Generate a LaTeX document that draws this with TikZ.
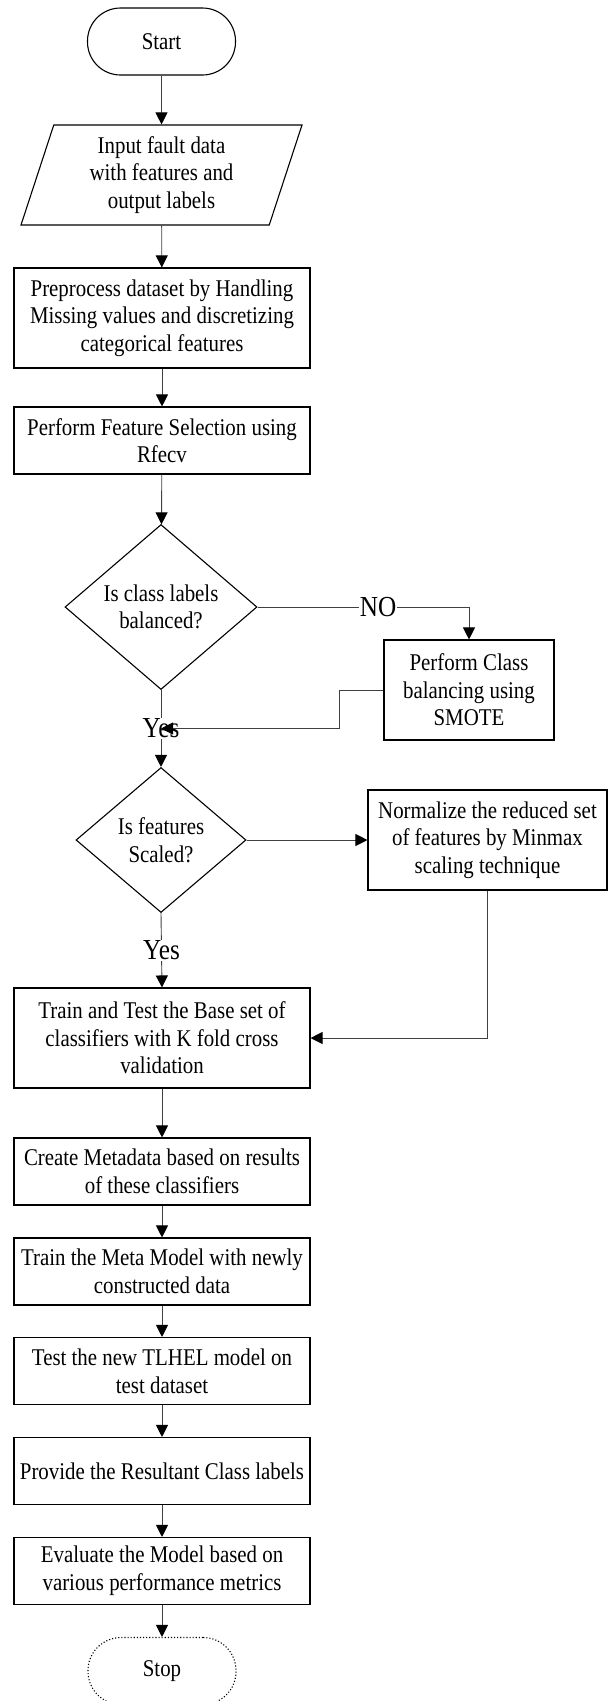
\documentclass[tikz,border=0pt]{standalone}
\usepackage{fontspec}
\setmainfont{Liberation Serif}[FakeStretch=0.87]
\usepackage{tikz}
\usetikzlibrary{shapes.geometric,arrows.meta}
\tikzset{box/.style={draw,line width=1.1pt,minimum width=296pt,minimum height=67pt,align=center,inner xsep=2pt},
  decision/.style={draw,diamond,line width=1.1pt,align=center,inner sep=0pt},
  terminal/.style={draw,rounded corners=33pt,line width=1.1pt,minimum width=148pt,minimum height=67pt},
  lbl/.style={fill=white,inner sep=1pt,font=\fontsize{29}{33}\selectfont},
  flow/.style={line width=0.9pt,draw=black!75,-{Triangle[length=12pt,width=12pt,color=black,fill=black]}}}

\begin{document}
\begin{tikzpicture}[x=1pt,y=-1pt,font=\fontsize{24}{27.6}\selectfont]
  \useasboundingbox (0,0) rectangle (608,1701);
  \node[terminal] (start) at (161.5,41.5) {Start};
  \node[draw,trapezium,trapezium left angle=67,trapezium right angle=113,trapezium stretches body,minimum width=281pt,minimum height=100pt,line width=1.1pt,align=center,inner sep=0pt] (input) at (161.5,175) {Input fault data\\with features and\\output labels};
  \node[box,minimum height=100pt] (prep) at (162,318) {Preprocess dataset by Handling\\Missing values and discretizing\\categorical features};
  \node[box] (fsel) at (162,440.5) {Perform Feature Selection using\\Rfecv};
  \node[decision,minimum width=192pt,minimum height=165pt] (dec1) at (161,607) {Is class labels\\balanced?};
  \node[box,minimum width=170pt,minimum height=100pt] (smote) at (469,690) {Perform Class\\balancing using\\SMOTE};
  \node[decision,minimum width=170pt,minimum height=145pt] (dec2) at (161,840) {Is features\\Scaled?};
  \node[box,minimum width=239pt,minimum height=100pt] (norm) at (487.5,840) {Normalize the reduced set\\of features by Minmax\\scaling technique};
  \node[box,minimum height=100pt] (train) at (162,1038) {Train and Test the Base set of\\classifiers with K fold cross\\validation};
  \node[box] (create) at (162,1171.5) {Create Metadata based on results\\of these classifiers};
  \node[box] (meta) at (162,1271.5) {Train the Meta Model with newly\\constructed data};
  \node[box] (test) at (162,1371) {Test the new TLHEL model on\\test dataset};
  \node[box] (prov) at (162,1471) {Provide the Resultant Class labels};
  \node[box] (eval) at (162,1571) {Evaluate the Model based on\\various performance metrics};
  \node[terminal,dotted] (stop) at (162,1671) {Stop};
  \draw[flow] (start) -- (input);
  \draw[flow] (input) -- (prep);
  \draw[flow] (prep) -- (fsel);
  \draw[flow] (fsel) -- (dec1);
  \draw[flow] (dec1.east) -- node[lbl,pos=0.57] (no) {NO} (dec1.east -| smote.north) -- (smote.north);
  \draw[flow] (dec1.south) -- node[lbl] (yes1) {Yes} (dec2.north);
  \draw[flow] (smote.west) -- ++(-44,0) |- (yes1.center);
  \draw[flow] (dec2.east) -- (norm.west);
  \draw[flow] (dec2.south) -- node[lbl] (yes2) {Yes} (train.north);
  \draw[flow] (norm.south) |- (train.east);
  \draw[flow] (train) -- (create);
  \draw[flow] (create) -- (meta);
  \draw[flow] (meta) -- (test);
  \draw[flow] (test) -- (prov);
  \draw[flow] (prov) -- (eval);
  \draw[flow] (eval) -- (stop);
\end{tikzpicture}
\end{document}
